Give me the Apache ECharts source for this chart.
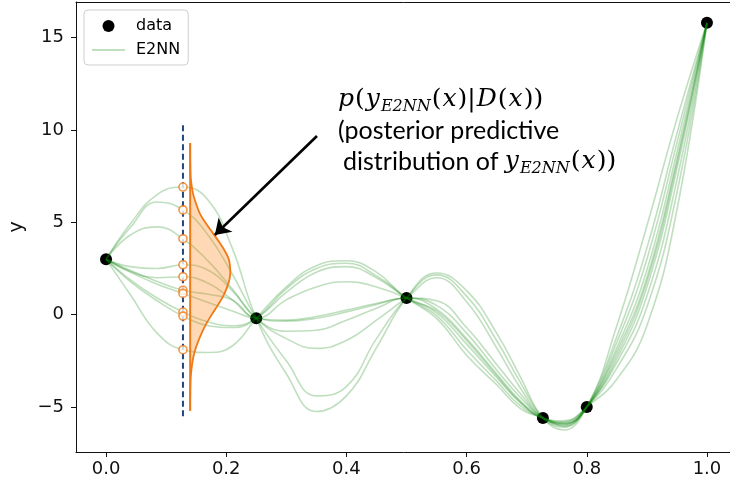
<!DOCTYPE html>
<html>
<head>
<meta charset="utf-8">
<script src="https://cdn.jsdelivr.net/npm/echarts@6/dist/echarts.min.js"></script>
<style>
  html, body { margin: 0; padding: 0; background: #fff; }
  #chart { width: 730px; height: 486px; }
</style>
</head>
<body>
<div id="chart"></div>
<script>
// Training data
const dataX = [0, 0.25, 0.5, 0.727, 0.8, 1.0];
const dataY = [3.0, -0.2, 0.9, -5.6, -5.0, 15.8];

// Ensemble member predictions, sampled at shared x knots
const xKnots = [0, 0.04, 0.085, 0.128, 0.17, 0.21, 0.25, 0.3, 0.35, 0.4, 0.45, 0.5,
                0.55, 0.6, 0.65, 0.69, 0.727, 0.762, 0.8, 0.85, 0.9, 0.95, 1.0];
const e2nn1  = [3.0, 4.9, 6.5, 6.91, 6.2, 3.6, -0.2, -3.2, -5.25, -4.4, -1.8, 0.9, 2.25, 1.3, -1.0, -3.4, -5.6, -6.25, -5.0, -1.2, 3.6, 9.8, 15.8];
const e2nn2  = [3.0, 4.7, 6.1, 5.67, 4.3, 2.2, -0.2, -2.5, -4.4, -3.9, -1.3, 0.9, 2.15, 1.0, -1.4, -3.7, -5.6, -6.1, -5.0, -2.0, 2.0, 8.4, 15.8];
const e2nn3  = [3.0, 4.3, 4.75, 4.11, 2.9, 1.4, -0.2, -1.3, -1.83, -1.4, -0.3, 0.9, 2.0, 0.7, -1.8, -4.0, -5.6, -6.0, -5.0, -2.6, 1.0, 7.3, 15.8];
const e2nn4  = [3.0, 2.6, 2.5, 2.7, 2.4, 1.3, -0.2, -0.9, -0.85, -0.3, 0.35, 0.9, 0.5, -1.0, -3.0, -4.5, -5.6, -5.9, -5.0, -0.6, 4.8, 10.6, 15.8];
const e2nn5  = [3.0, 2.35, 2.0, 2.05, 1.7, 0.8, -0.2, -0.35, -0.2, 0.15, 0.55, 0.9, 0.75, -0.7, -2.7, -4.3, -5.6, -5.85, -5.0, -2.2, 1.8, 8.2, 15.8];
const e2nn6  = [3.0, 2.4, 1.8, 1.32, 1.1, 0.8, -0.2, -0.3, -0.1, 0.25, 0.6, 0.9, 0.3, -1.3, -3.2, -4.7, -5.6, -5.95, -5.0, -1.8, 2.4, 8.8, 15.8];
const e2nn7  = [3.0, 2.3, 1.65, 1.15, 0.65, 0.2, -0.2, 0.8, 1.5, 1.78, 1.5, 0.9, 0.1, -1.6, -3.4, -4.8, -5.6, -5.8, -5.0, -3.5, -0.6, 5.67, 15.8];
const e2nn8  = [3.0, 1.9, 0.9, 0.14, -0.4, -0.6, -0.2, 1.2, 2.3, 2.6, 2.0, 0.9, -0.05, -1.9, -3.6, -4.95, -5.6, -5.9, -5.0, -2.4, 1.5, 7.9, 15.8];
const e2nn9  = [3.0, 1.8, 0.75, -0.08, -0.6, -0.7, -0.2, 1.4, 2.5, 2.78, 2.1, 0.9, -0.2, -2.2, -3.8, -5.1, -5.6, -6.05, -5.0, -1.5, 3.0, 9.3, 15.8];
const e2nn10 = [3.0, 1.1, -1.0, -1.9, -2.05, -1.7, -0.2, 1.5, 2.65, 2.92, 2.3, 0.9, 0.2, -1.4, -3.3, -4.75, -5.6, -5.75, -5.0, -2.9, 0.4, 6.6, 15.8];
const members = [e2nn1, e2nn2, e2nn3, e2nn4, e2nn5, e2nn6, e2nn7, e2nn8, e2nn9, e2nn10];

// Ensemble samples at the probe location and their fitted density
const probeX = 0.128;
const probeSamples = [6.91, 5.67, 4.11, 2.70, 2.05, 1.32, 1.15, 0.14, -0.08, -1.90];
const probeLineY = [-5.5, 10.45];
const densityBaseX = 0.14;
const densityY   = [9.3, 8.5, 7.5, 7.0, 6.5, 6.0, 5.5, 5.0, 4.5, 4.0, 3.5, 3.0, 2.4, 2.0,
                    1.5, 1.0, 0.5, 0.0, -0.5, -1.0, -1.5, -2.0, -2.5, -3.0, -3.5, -4.5, -5.2];
const densityPdf = [0, 0, 0.002, 0.007, 0.015, 0.029, 0.046, 0.073, 0.105, 0.137, 0.166, 0.188, 0.195, 0.193,
                    0.180, 0.161, 0.134, 0.105, 0.078, 0.056, 0.037, 0.022, 0.012, 0.006, 0.002, 0, 0];

// Annotation arrow (tail, head) in data units
const arrowFrom = [0.351, 9.67];
const arrowTo = [0.181, 4.31];

// Axis ticks
const xTicks = [0, 0.2, 0.4, 0.6, 0.8, 1.0];
const yTicks = [-5, 0, 5, 10, 15];

const pdfWidthScale = 0.342;
const GREEN = 'rgba(0,128,0,0.25)';
const ORANGE = '#f07a16';
const NAVY = '#21467f';
const SPINE = '#111';

const chart = echarts.init(document.getElementById('chart'), null, { renderer: 'canvas' });

const minus = v => (v < 0 ? '\u2212' + Math.abs(v) : String(v));

const memberSeries = members.map(vals => ({
  name: 'E2NN',
  type: 'line',
  z: 2,
  smooth: 0.45,
  symbol: 'none',
  silent: true,
  lineStyle: { color: GREEN, width: 1.6 },
  itemStyle: { color: GREEN },
  emphasis: { disabled: true },
  data: xKnots.map((x, i) => [x, vals[i]])
}));

const tok = { padding: [0, 1, 0, 0], color: '#000' };
const mathRich = {
  i: Object.assign({ fontFamily: 'DejaVu Serif', fontStyle: 'italic', fontSize: 25, lineHeight: 30 }, tok),
  r: Object.assign({ fontFamily: 'DejaVu Serif', fontSize: 25, lineHeight: 30 }, tok),
  s: Object.assign({ fontFamily: 'DejaVu Serif', fontStyle: 'italic', fontSize: 16, lineHeight: 17, verticalAlign: 'bottom' }, tok),
  t: { fontFamily: 'Lato', fontSize: 25, lineHeight: 30, color: '#000' }
};

chart.setOption({
  animation: false,
  backgroundColor: '#fff',
  grid: {
    left: 76, top: 2, width: 661, bottom: 34,
    outerBoundsMode: 'none',
    containLabel: false,
    show: false
  },
  legend: {
    left: 84, top: 10,
    orient: 'vertical',
    padding: [6, 8, 5, 7],
    itemGap: 4,
    itemWidth: 33,
    itemHeight: 12,
    borderColor: '#cfcfcf',
    borderWidth: 1,
    borderRadius: 4,
    backgroundColor: 'rgba(255,255,255,0.85)',
    textStyle: { fontFamily: 'DejaVu Sans', fontSize: 16, lineHeight: 20, color: '#000', padding: [0, 0, 0, 6] },
    selectedMode: false,
    data: [
      { name: 'data', icon: 'circle' },
      { name: 'E2NN', itemStyle: { opacity: 0 } }
    ]
  },
  xAxis: [
    {
      type: 'value',
      min: -0.05, max: 1.05,
      splitLine: { show: false },
      axisLine: { show: true, onZero: false, lineStyle: { color: SPINE, width: 1 } },
      axisTick: { show: true, length: 5, customValues: xTicks, lineStyle: { color: SPINE } },
      axisLabel: {
        customValues: xTicks,
        formatter: v => v.toFixed(1),
        fontFamily: 'DejaVu Sans', fontSize: 18, color: '#111', margin: 8
      }
    },
    {
      // top spine of the frame
      type: 'value',
      position: 'top',
      min: -0.05, max: 1.05,
      splitLine: { show: false },
      axisLine: { show: true, onZero: false, lineStyle: { color: SPINE, width: 1 } },
      axisTick: { show: false },
      axisLabel: { show: false }
    }
  ],
  yAxis: {
    type: 'value',
    min: -7.44, max: 16.93,
    name: 'y',
    nameLocation: 'middle',
    nameGap: 47,
    nameRotate: 90,
    nameTextStyle: { fontFamily: 'DejaVu Sans', fontSize: 19, color: '#111' },
    splitLine: { show: false },
    axisLine: { show: true, onZero: false, lineStyle: { color: SPINE, width: 1 } },
    axisTick: { show: true, length: 5, customValues: yTicks, lineStyle: { color: SPINE } },
    axisLabel: {
      customValues: yTicks,
      formatter: minus,
      fontFamily: 'DejaVu Sans', fontSize: 18, color: '#111', margin: 12
    }
  },
  series: [
    {
      name: 'data',
      type: 'scatter',
      z: 1,
      symbol: 'circle',
      symbolSize: 12,
      silent: true,
      clip: false,
      itemStyle: { color: '#000', opacity: 1 },
      data: dataX.map((x, i) => [x, dataY[i]])
    },
    ...memberSeries,
    {
      name: 'probe',
      type: 'line',
      z: 3,
      symbol: 'none',
      silent: true,
      lineStyle: { color: NAVY, width: 2, type: [6, 3.5] },
      data: probeLineY.map(y => [probeX, y]),
      markLine: {
        silent: true,
        symbol: ['none', 'arrow'],
        symbolSize: 15,
        label: { show: false },
        lineStyle: { color: '#000', width: 2.6, type: 'solid' },
        itemStyle: { color: '#000' },
        emphasis: { disabled: true },
        data: [[{ coord: arrowFrom }, { coord: arrowTo }]]
      }
    },
    {
      name: 'density',
      type: 'custom',
      z: 4,
      silent: true,
      data: [[densityBaseX, densityY[0]]],
      renderItem: (params, api) => {
        const pts = densityY.map((y, i) => api.coord([densityBaseX + densityPdf[i] * pdfWidthScale, y]));
        const base = [api.coord([densityBaseX, densityY[0]]), api.coord([densityBaseX, densityY[densityY.length - 1]])];
        return {
          type: 'group',
          children: [
            { type: 'polygon', shape: { points: pts, smooth: 0.25 }, style: { fill: 'rgba(255,127,14,0.3)', stroke: null } },
            { type: 'polyline', shape: { points: pts, smooth: 0.25 }, style: { stroke: ORANGE, lineWidth: 1.8, fill: null } },
            { type: 'line', shape: { x1: base[0][0], y1: base[0][1], x2: base[1][0], y2: base[1][1] }, style: { stroke: ORANGE, lineWidth: 2 } }
          ]
        };
      }
    },
    {
      name: 'samples',
      type: 'scatter',
      z: 5,
      symbol: 'circle',
      symbolSize: 8,
      silent: true,
      itemStyle: { color: '#fff', borderColor: ORANGE, borderWidth: 1.6 },
      data: probeSamples.map(y => [probeX, y])
    }
  ],
  graphic: [
    {
      type: 'text', left: 338, top: 87, z: 10,
      style: {
        text: '{i|p}{r|(}{i|y}{s|E2NN}{r|(}{i|x}{r|)|}{i|D}{r|(}{i|x}{r|))}',
        rich: mathRich
      }
    },
    {
      type: 'text', left: 338, top: 118, z: 10,
      style: { text: '{t|(posterior predictive}', rich: mathRich }
    },
    {
      type: 'text', left: 343, top: 149, z: 10,
      style: {
        text: '{t|distribution of }{i|y}{s|E2NN}{r|(}{i|x}{r|))}',
        rich: mathRich
      }
    }
  ]
});
</script>
</body>
</html>
